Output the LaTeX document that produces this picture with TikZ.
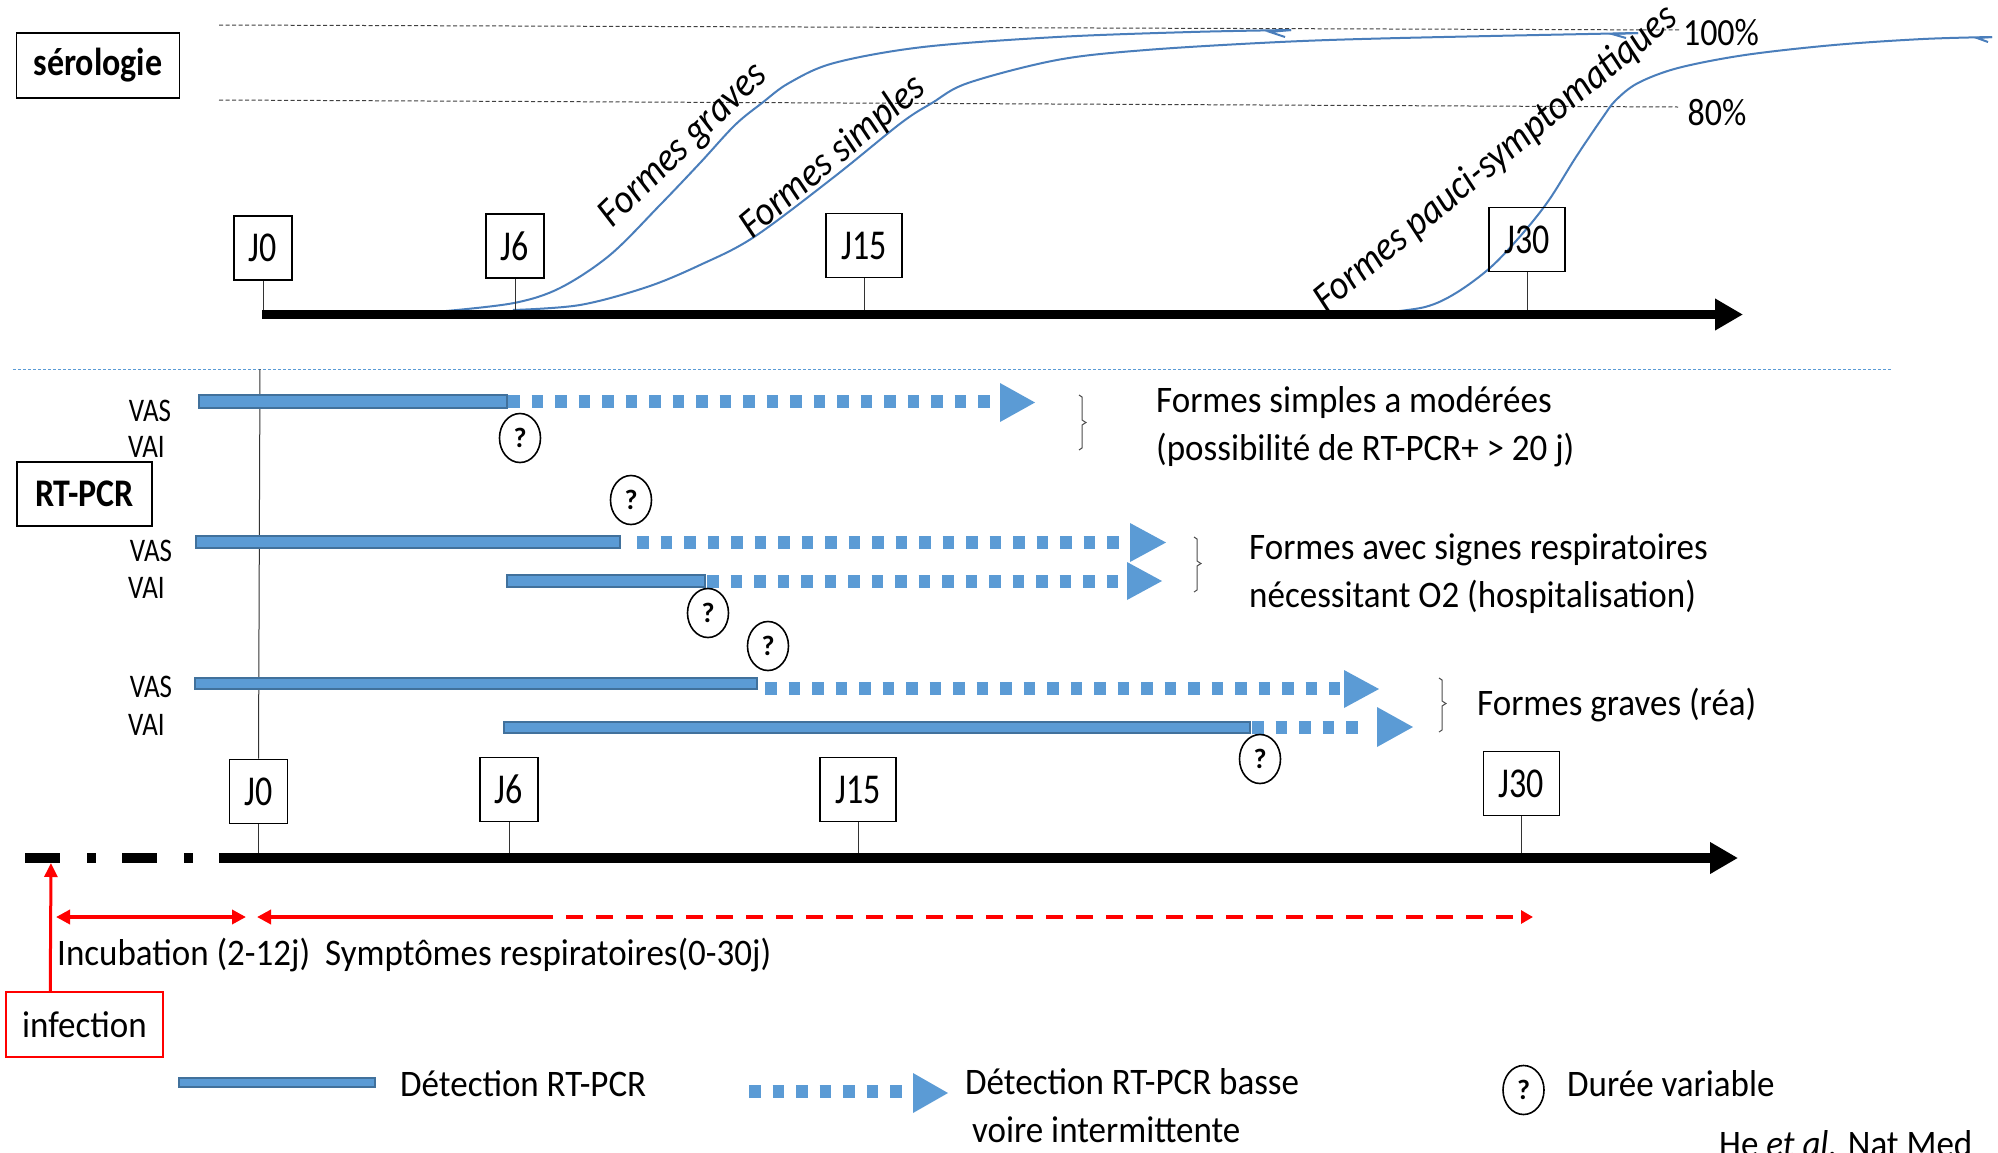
\documentclass[tikz,border=0pt]{standalone}
\usepackage{fontspec}
\usepackage{graphicx}
\setmainfont{Carlito}
\usetikzlibrary{arrows.meta,shapes.geometric,calc}
\definecolor{barblue}{HTML}{5B9BD5}
\definecolor{bardark}{HTML}{41719C}
\definecolor{curveblue}{HTML}{4A7EBB}
\newcommand{\vst}[2]{\scalebox{1}[#1]{#2}}
\begin{document}
\begin{tikzpicture}[x=1pt,y=-1pt,
  jbox/.style={draw, line width=1.8pt, minimum width=58pt, minimum height=64pt, inner sep=0pt, font=\fontsize{34}{40}\selectfont},
  wjbox/.style={jbox, minimum width=76pt},
  titlebox/.style={draw, line width=1.8pt, inner sep=0pt, font=\fontsize{34}{40}\selectfont\bfseries},
  vlab/.style={inner sep=0pt, font=\fontsize{27}{32}\selectfont},
  qmark/.style={ellipse, draw, line width=1.6pt, minimum width=41pt, minimum height=49pt, inner sep=0pt, font=\fontsize{28}{32}\selectfont\bfseries},
  txt/.style={inner sep=0pt, anchor=west, align=left, font=\fontsize{35}{48}\selectfont},
  rot/.style={inner sep=0pt, font=\fontsize{37}{44}\selectfont\itshape},
  pct/.style={inner sep=0pt, font=\fontsize{34}{40}\selectfont},
  bar/.style={fill=barblue, draw=bardark, line width=1.5pt},
  dots/.style={draw=barblue, line width=13pt, dash pattern=on 11.5pt off 12pt},
  headfill/.style={fill=barblue},
  tick/.style={line width=1pt, draw=black!80},
  axisline/.style={line width=9pt, -{Triangle[length=28pt,width=30pt]}},
  curve/.style={draw=curveblue, line width=2pt},
  guide/.style={draw=black!75, line width=1pt, dash pattern=on 4pt off 2.5pt},
  bracket/.style={draw=black!70, line width=1pt},
  redline/.style={draw=red, line width=4.5pt}
]
\path[use as bounding box, clip] (0,0) rectangle (1998,1152);
\fill[white] (0,0) rectangle (1998,1152);

% ---------------- serologie ----------------
\node[titlebox, minimum width=163pt, minimum height=65pt] (sero) at (98,65.5) {\vst{1.15}{sérologie}};

\draw[guide] (219,25) -- (1681,30);
\draw[guide] (219,100) -- (1678,107);
\node[pct] (p100) at (1721,33) {\vst{1.13}{100\%}};
\node[pct] (p80) at (1717,113) {\vst{1.13}{80\%}};

% curves
\draw[curve] plot[smooth, tension=0.55] coordinates {(446,311) (514,303) (560,288) (610,255) (660,205) (700,163) (735,125) (762,103) (789,83) (834,63) (923,47) (1057,37) (1191,32) (1291,30)};
\draw[curve] (1291,30) -- (1270,32) -- (1285,37);
\draw[curve] plot[smooth, tension=0.55] coordinates {(513,310) (580,305) (647,287) (700,265) (754,237) (834,177) (901,123) (932,103) (968,83) (1057,60) (1146,50) (1280,42) (1400,38) (1638,33)};
\draw[curve] (1638,33) -- (1612,34) -- (1626,38);
\draw[curve] plot[smooth, tension=0.55] coordinates {(1380,313) (1425,307) (1456,293) (1491,267) (1523,233) (1549,200) (1576,157) (1603,117) (1616,100) (1638,83) (1678,68) (1745,55) (1834,45) (1923,39) (1992,37)};
\draw[curve] (1992,37) -- (1977,38) -- (1988,42);

\node[rot, rotate=44] (lgraves) at (684,146) {\vst{1.1}{Formes graves}};
\node[rot, rotate=40] (lsimples) at (833,157) {\vst{1.1}{Formes simples}};
\node[rot, rotate=39.5] (lpauci) at (1496,159) {\vst{1.1}{Formes pauci-symptomatiques}};

% top axis
\coordinate (ta0) at (262,314.5);
\coordinate (ta1) at (1743,314.5);
\draw[axisline] (ta0) -- (ta1);
\node[jbox] (tj0) at (263,248) {\vst{1.25}{J0}};
\node[jbox] (tj6) at (515,246) {\vst{1.25}{J6}};
\node[wjbox] (tj15) at (864,245.5) {\vst{1.25}{J15}};
\node[wjbox] (tj30) at (1527,239.5) {\vst{1.25}{J30}};
\foreach \b in {tj0,tj6,tj15,tj30}{
  \draw[tick] (\b.south) -- (\b.south |- 0,310);
}

% separator
\draw[draw=barblue, line width=1pt, dash pattern=on 3pt off 2pt] (13,369) -- (1892,369);

% ---------------- RT-PCR ----------------
\node[titlebox, minimum width=135pt, minimum height=64pt] (rtpcr) at (84.5,494) {\vst{1.15}{RT-PCR}};

\node[vlab] (vas1) at (150,411) {\vst{1.22}{VAS}};
\node[vlab, anchor=west] (vai1) at (128,447) {\vst{1.22}{VAI}};
\node[vlab] (vas2) at (151,551) {\vst{1.22}{VAS}};
\node[vlab, anchor=west] (vai2) at (128,588) {\vst{1.22}{VAI}};
\node[vlab] (vas3) at (151,687) {\vst{1.22}{VAS}};
\node[vlab, anchor=west] (vai3) at (128,725) {\vst{1.22}{VAI}};

% bottom J boxes
\node[jbox] (bj0) at (258.5,791.5) {\vst{1.25}{J0}};
\node[jbox] (bj6) at (509,789.5) {\vst{1.25}{J6}};
\node[wjbox] (bj15) at (858,789.5) {\vst{1.25}{J15}};
\node[wjbox] (bj30) at (1521.5,783.5) {\vst{1.25}{J30}};

% J0 vertical line
\coordinate (j0top) at (260,369);
\draw[tick] (j0top) -- (bj0.north);

% row 1
\draw[bar] (199,395) rectangle (507,408);
\draw[dots] (508,401.5) -- (995,401.5);
\fill[headfill] (1000,383) -- (1035,402.5) -- (1000,422) -- cycle;
% row 2
\draw[bar] (196,536) rectangle (620,548);
\draw[dots] (637,542) -- (1125,542);
\fill[headfill] (1130,523) -- (1166,542.5) -- (1130,562) -- cycle;
\draw[bar] (507,575) rectangle (705,587);
\draw[dots] (707,581) -- (1124,581);
\fill[headfill] (1127,562) -- (1162,581) -- (1127,600) -- cycle;
% row 3
\draw[bar] (195,678) rectangle (757,689);
\draw[dots] (765,688) -- (1340,688);
\fill[headfill] (1344,670) -- (1379,689) -- (1344,708) -- cycle;
\draw[bar] (504,722) rectangle (1250,733);
\draw[dots] (1252,727.5) -- (1360,727.5);
\fill[headfill] (1377,707) -- (1413,727) -- (1377,747) -- cycle;

% question marks
\node[qmark] (q1) at (520,438) {?};
\node[qmark] (q2) at (631,500) {?};
\node[qmark] (q3) at (708,613) {?};
\node[qmark] (q4) at (768,646) {?};
\node[qmark] (q5) at (1260,759) {?};

% brackets
\draw[bracket] (1079,395) -- (1082,397) -- (1082,420) -- (1086,422.5) -- (1082,425) -- (1082,448) -- (1079,450);
\draw[bracket] (1194,537) -- (1197,539) -- (1197,561) -- (1201,563.5) -- (1197,566) -- (1197,590) -- (1194,592);
\draw[bracket] (1439,678) -- (1442,680) -- (1442,701) -- (1446,703.5) -- (1442,706) -- (1442,730) -- (1439,732);

% right texts
\node[txt] (t1) at (1156,427) {\vst{1.07}{Formes simples a modérées}\\\vst{1.07}{(possibilité de RT-PCR+ > 20 j)}};
\node[txt] (t2) at (1249,574) {\vst{1.07}{Formes avec signes respiratoires}\\\vst{1.07}{nécessitant O2 (hospitalisation)}};
\node[txt] (t3) at (1477,705) {\vst{1.07}{Formes graves (réa)}};

% bottom axis
\coordinate (ba0) at (25,858);
\coordinate (ba1) at (221,858);
\coordinate (ba2) at (1738,858);
\draw[line width=10pt, dash pattern=on 35pt off 27pt on 9pt off 26pt] (ba0) -- (ba1);
\draw[line width=10pt, -{Triangle[length=28pt,width=30pt]}] (ba1) -- (ba2);
\foreach \b in {bj0,bj6,bj15,bj30}{
  \draw[tick] (\b.south) -- (\b.south |- 0,853);
}

% infection
\node[draw=red, line width=1.5pt, minimum width=157pt, minimum height=65pt, inner sep=0pt, font=\fontsize{35}{42}\selectfont] (inf) at (84.5,1024.5) {\vst{1.07}{infection}};
\coordinate (infA) at ($(inf.north west)+(45,0)$);
\coordinate (infT) at (51,863);
\draw[draw=red, line width=3pt, -{Triangle[length=14pt,width=13pt]}] (infA) -- (infT);

\coordinate (inc0) at (56,917);
\coordinate (inc1) at (246,917);
\draw[redline, {Triangle[length=14pt,width=14pt]}-{Triangle[length=14pt,width=14pt]}] (inc0) -- (inc1);
\coordinate (sym0) at (257,917);
\coordinate (sym1) at (536,917);
\coordinate (sym2) at (1533,917);
\draw[redline, {Triangle[length=14pt,width=14pt]}-] (sym0) -- (sym1);
\draw[redline, dash pattern=on 17pt off 13pt, -{Triangle[length=12pt,width=13pt]}] (sym1) -- (sym2);

\node[txt] (tinc) at (57,955) {\vst{1.07}{Incubation (2-12j)}};
\node[txt] (tsym) at (325,955) {\vst{1.07}{Symptômes respiratoires(0-30j)}};

% legend
\draw[bar] (179,1078) rectangle (375,1087);
\node[txt] (lg1) at (400,1084) {\vst{1.07}{Détection RT-PCR}};
\draw[dots] (749,1091.5) -- (903,1091.5);
\fill[headfill] (913,1073) -- (948,1093) -- (913,1113) -- cycle;
\node[txt, anchor=north west] (lg2) at (965,1068) {\vst{1.07}{Détection RT-PCR basse}\\\hspace*{7pt}\vst{1.07}{voire intermittente}};
\node[qmark] (qL) at (1523.5,1090) {?};
\node[txt] (lg3) at (1567,1084) {\vst{1.07}{Durée variable}};
\node[inner sep=0pt, anchor=base west, font=\fontsize{35}{42}\selectfont] (ref) at (1719,1156) {\vst{1.07}{He \textit{et al.} Nat Med}};
\end{tikzpicture}
\end{document}
